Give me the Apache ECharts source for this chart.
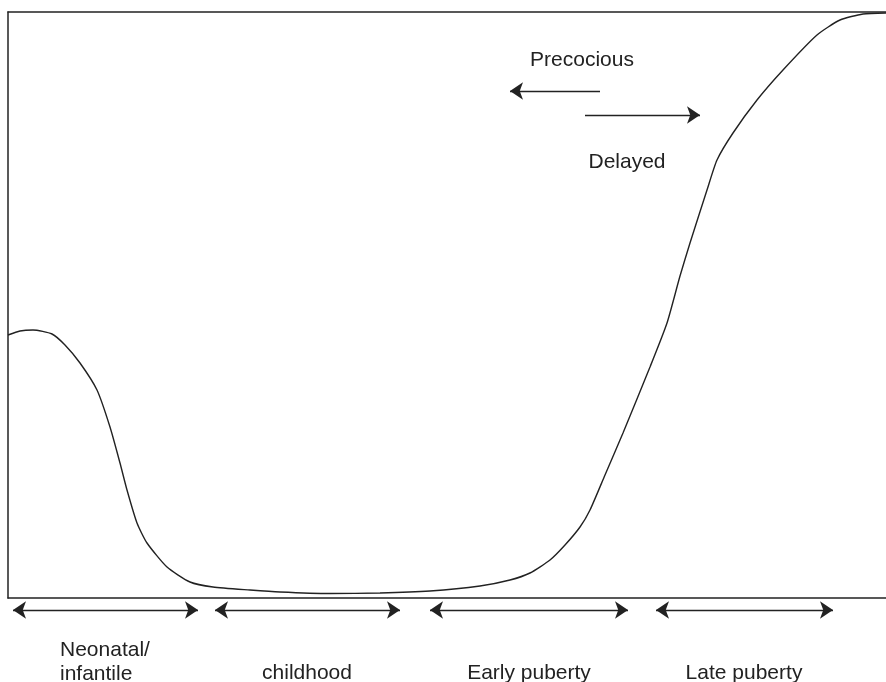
<!DOCTYPE html>
<html>
<head>
<meta charset="utf-8">
<script src="https://cdn.jsdelivr.net/npm/echarts@6/dist/echarts.min.js"></script>
<style>
  html, body { margin: 0; padding: 0; background: #fff; }
  #main { width: 886px; height: 682px; }
</style>
</head>
<body>
<div id="main"></div>
<script>
// curve (x along the life course, y hormone level)
const curveX = [0, 12, 25, 44, 57, 72, 89, 102, 112, 119, 129, 139, 159, 182, 205, 242, 272, 322, 372, 422,
  472, 502, 522, 542, 557, 572, 582, 597, 615, 642, 659, 672, 682, 699, 709, 725, 749, 775, 809, 832, 855, 878]
const curveY = [263, 267, 268, 264, 253, 235, 208, 171, 135, 108, 75, 55, 31, 16, 11, 8, 6, 4.5, 5, 7,
  12, 18, 25, 38, 53, 71, 88, 123, 165, 231, 275, 322, 355, 408, 438, 465, 498, 528, 563, 578, 584, 585]

// stage ranges under the axis
const stageNames = ['Neonatal/\ninfantile', 'childhood', 'Early puberty', 'Late puberty']
const stageFrom = [5, 207, 422, 648]
const stageTo = [190, 392, 620, 825]

// timing arrows
const precociousArrow = [[592, 507], [502, 507]]
const delayedArrow = [[577, 483], [692, 483]]

const dom = document.getElementById('main')
const myChart = echarts.init(dom)

const ink = '#222'
const font = '21px "Liberation Sans", Arial, sans-serif'
const frame = { show: true, lineStyle: { color: ink, width: 1.5 } }

const stageLines = stageFrom.map((x0, i) => ({
  coords: [[x0, -12], [stageTo[i], -12]],
  symbol: ['arrow', 'arrow']
}))

const option = {
  animation: false,
  grid: {
    left: 8,
    right: 0,
    top: 12,
    bottom: 84
  },
  xAxis: [
    {
      type: 'value', min: 0, max: 878, position: 'bottom',
      axisLine: frame, axisTick: { show: false }, axisLabel: { show: false }, splitLine: { show: false }
    },
    {
      type: 'value', min: 0, max: 878, position: 'top',
      axisLine: frame, axisTick: { show: false }, axisLabel: { show: false }, splitLine: { show: false }
    }
  ],
  yAxis: {
    type: 'value',
    min: 0,
    max: 586,
    axisLine: frame,
    axisTick: { show: false },
    axisLabel: { show: false },
    splitLine: { show: false }
  },
  series: [
    {
      type: 'line',
      data: curveX.map((x, i) => [x, curveY[i]]),
      smooth: 0.2,
      showSymbol: false,
      lineStyle: { color: ink, width: 1.4 }
    },
    {
      type: 'lines',
      coordinateSystem: 'cartesian2d',
      clip: false,
      symbolSize: 13,
      lineStyle: { color: ink, width: 1.4, opacity: 1 },
      data: stageLines.concat([
        { coords: precociousArrow, symbol: ['none', 'arrow'] },
        { coords: delayedArrow, symbol: ['none', 'arrow'] }
      ])
    }
  ],
  graphic: [
    { type: 'text', x: 582, y: 60, style: { text: 'Precocious', font: font, fill: ink, textAlign: 'center', textVerticalAlign: 'middle' } },
    { type: 'text', x: 627, y: 162, style: { text: 'Delayed', font: font, fill: ink, textAlign: 'center', textVerticalAlign: 'middle' } },
    { type: 'text', x: 60, y: 638, style: { text: stageNames[0], font: font, fill: ink, textAlign: 'left', textVerticalAlign: 'top', lineHeight: 24 } },
    { type: 'text', x: 307, y: 673, style: { text: stageNames[1], font: font, fill: ink, textAlign: 'center', textVerticalAlign: 'middle' } },
    { type: 'text', x: 529, y: 673, style: { text: stageNames[2], font: font, fill: ink, textAlign: 'center', textVerticalAlign: 'middle' } },
    { type: 'text', x: 744, y: 673, style: { text: stageNames[3], font: font, fill: ink, textAlign: 'center', textVerticalAlign: 'middle' } }
  ]
}
myChart.setOption(option)
window.addEventListener('resize', function () {
  myChart.resize()
})
</script>
</body>
</html>
